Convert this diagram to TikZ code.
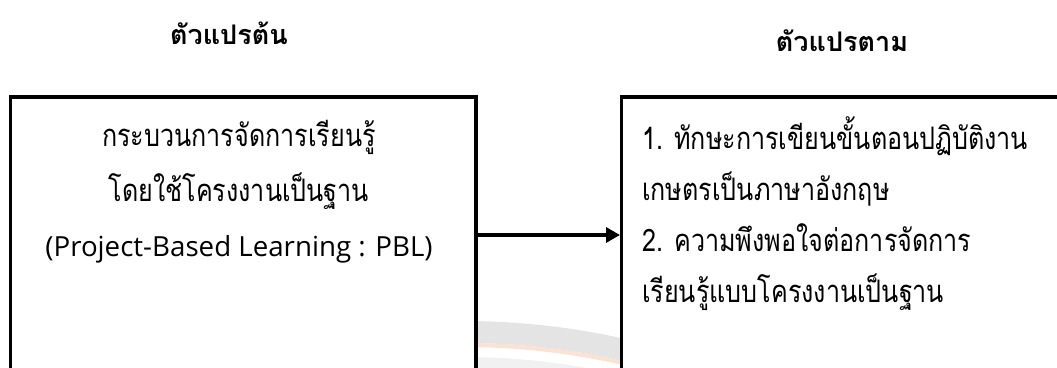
\documentclass[tikz,border=0pt]{standalone}
\usepackage{fontspec}
\newfontfamily\thaifont[Script=Thai, FakeStretch=0.81]{Loma}
\newfontfamily\headfont[Script=Thai]{Loma}
\newfontfamily\latinfont{Open Sans}
\usetikzlibrary{arrows.meta}
\usetikzlibrary{positioning}
\definecolor{wmgray}{HTML}{E4E4E4}
\definecolor{wmlight}{HTML}{F1F1F1}
\definecolor{wmorange}{HTML}{FCE2D2}
\tikzstyle{varbox} = [draw, line width=3.2pt, fill=white, minimum height=276pt,
inner sep=0pt]
\tikzstyle{line} = [draw, line width=3.2pt, -{Triangle[length=14pt,width=15pt]}]

\begin{document}
\begin{tikzpicture}[x=1pt, y=-1pt,
	head/.style={font=\headfont\bfseries\fontsize{27}{30}\selectfont, inner sep=0pt,
		anchor=base},
	body/.style={font=\thaifont\fontsize{31}{55}\selectfont, inner sep=0pt,
		anchor=base}]
	\useasboundingbox (0,0) rectangle (1057,367);
	\clip (0,0) rectangle (1057,367);
	%% watermark left behind the boxes
	\draw[wmlight, line width=40pt] (463,1055) circle[radius=678pt];
	\draw[wmorange, line width=4pt] (463,1055) circle[radius=710pt];
	\draw[wmgray, line width=22pt] (463,1055) circle[radius=723pt];
	%% Boxes
	\node [varbox, minimum width=465.5pt] (ivbox) at (243.25,235) {};
	\node [varbox, minimum width=480pt, anchor=west] (dvbox) at (620,235) {};
	\node [head] (ivhead) at (229,44) {ตัวแปรต้น};
	\node [head] (dvhead) at (842,51) {ตัวแปรตาม};
	\node [body, align=center] (ivtext) at (239,256)
	{กระบวนการจัดการเรียนรู้\\ โดยใช้โครงงานเป็นฐาน\\
		{\latinfont\fontsize{27.7}{55}\selectfont (Project-Based Learning : PBL)}};
	\node [body, align=left, anchor=base west,
	font=\thaifont\fontsize{31}{50.7}\selectfont] (dvtext) at (642,302)
	{1. ทักษะการเขียนขั้นตอนปฏิบัติงาน\\ เกษตรเป็นภาษาอังกฤษ\\
		2. ความพึงพอใจต่อการจัดการ\\ เรียนรู้แบบโครงงานเป็นฐาน};
	%% Flow
	\path [line] (ivbox) -- (dvbox);
\end{tikzpicture}
\end{document}
